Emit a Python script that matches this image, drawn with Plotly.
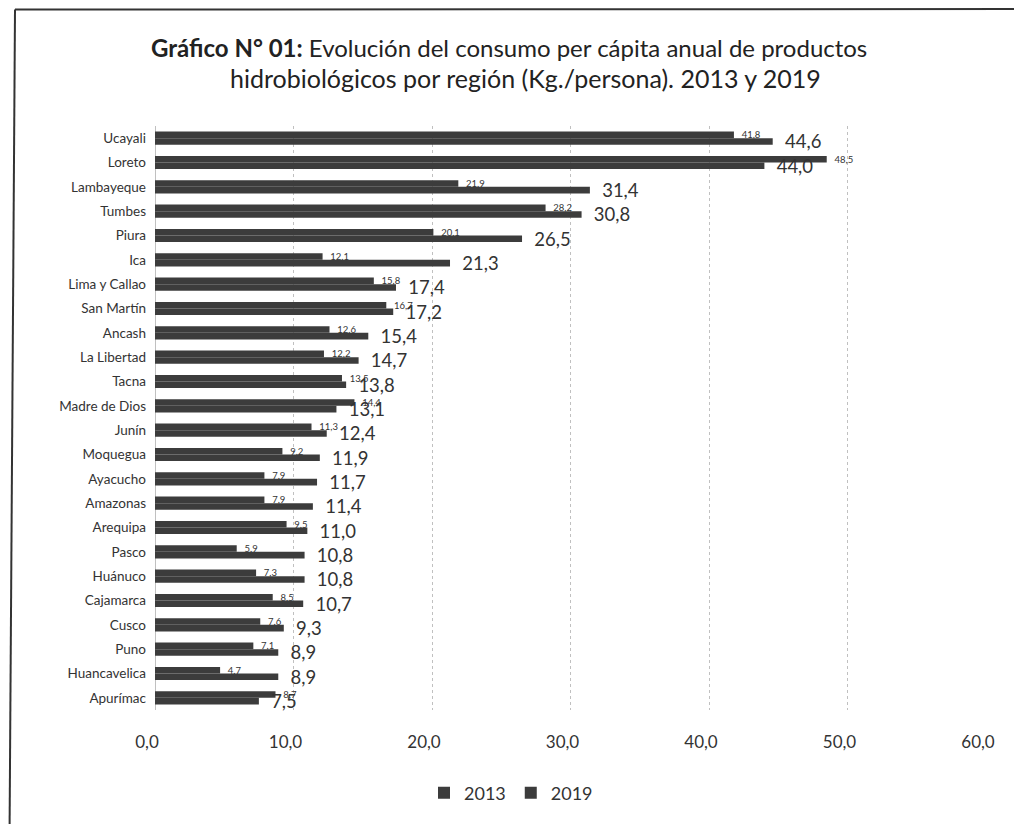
import plotly.graph_objects as go

regions = ["Ucayali", "Loreto", "Lambayeque", "Tumbes", "Piura", "Ica", "Lima y Callao",
           "San Martín", "Ancash", "La Libertad", "Tacna", "Madre de Dios", "Junín",
           "Moquegua", "Ayacucho", "Amazonas", "Arequipa", "Pasco", "Huánuco",
           "Cajamarca", "Cusco", "Puno", "Huancavelica", "Apurímac"]
v2013 = [41.8, 48.5, 21.9, 28.2, 20.1, 12.1, 15.8, 16.7, 12.6, 12.2, 13.5, 14.4, 11.3,
         9.2, 7.9, 7.9, 9.5, 5.9, 7.3, 8.5, 7.6, 7.1, 4.7, 8.7]
v2019 = [44.6, 44.0, 31.4, 30.8, 26.5, 21.3, 17.4, 17.2, 15.4, 14.7, 13.8, 13.1, 12.4,
         11.9, 11.7, 11.4, 11.0, 10.8, 10.8, 10.7, 9.3, 8.9, 8.9, 7.5]
tick_vals = [0, 10, 20, 30, 40, 50, 60]
tick_text = ["0,0", "10,0", "20,0", "30,0", "40,0", "50,0", "60,0"]
title_line1 = "<b>Gráfico N° 01:</b> Evolución del consumo per cápita anual de productos"
title_line2 = "hidrobiológicos por región (Kg./persona). 2013 y 2019"

def fmt(v):
    return "\u2002" + f"{v:.1f}".replace(".", ",")

FONT = "Lato"
BAR = "#3c3c3c"

fig = go.Figure()
fig.add_trace(go.Bar(
    name="2013", y=regions, x=v2013, orientation="h",
    marker=dict(color=BAR, line=dict(width=0)),
    text=[fmt(v) for v in v2013], textposition="outside",
    textfont=dict(size=9.5, color="#333333", family=FONT),
    constraintext="none", cliponaxis=False,
))
fig.add_trace(go.Bar(
    name="2019", y=regions, x=v2019, orientation="h",
    marker=dict(color=BAR, line=dict(width=0)),
    text=[fmt(v) for v in v2019], textposition="outside",
    textfont=dict(size=18.5, color="#333333", family=FONT),
    constraintext="none", cliponaxis=False,
))

OFF = 8  # page body margin
W, H = 1022, 824
L, T = 155 - OFF, 126 - OFF
R = W - (986 - OFF)
B = H - (710 - OFF)
pw, ph = W - L - R, H - T - B

def px(x):
    return (x - OFF - L) / pw

def py(y):
    return (H - B - (y - OFF)) / ph

fig.update_layout(
    width=W, height=H,
    margin=dict(l=L, r=R, t=T, b=B),
    paper_bgcolor="white", plot_bgcolor="white",
    barmode="group", bargap=0.46, bargroupgap=0,
    font=dict(family=FONT, color="#333333"),
    xaxis=dict(
        range=[0, 60], tickvals=tick_vals, ticktext=tick_text,
        tickfont=dict(size=17, color="#333333"),
        showgrid=True, gridcolor="#c0c0c0", griddash="dot", gridwidth=1,
        zeroline=True, zerolinecolor="#c0c0c0", zerolinewidth=1,
        showline=False, ticks="", ticklabelstandoff=20, ticklabelshift=-8,
    ),
    yaxis=dict(
        autorange="reversed", tickfont=dict(size=13.5, color="#333333"),
        showgrid=False, ticks="", ticklabelstandoff=8, showline=False,
    ),
    legend=dict(
        orientation="h", x=px(511), xanchor="center", y=py(793), yanchor="middle",
        font=dict(size=18, color="#333333"), itemwidth=30, traceorder="normal",
    ),
    annotations=[
        dict(text=title_line1, xref="paper", yref="paper", x=px(509), y=py(47),
             xanchor="center", yanchor="middle", showarrow=False,
             font=dict(size=24, color="#222222", family=FONT)),
        dict(text=title_line2, xref="paper", yref="paper", x=px(525), y=py(78),
             xanchor="center", yanchor="middle", showarrow=False,
             font=dict(size=25, color="#222222", family=FONT)),
    ],
    shapes=[
        dict(type="line", xref="paper", yref="paper", x0=px(15), y0=py(9.5), x1=px(1030), y1=py(9),
             line=dict(color="#333333", width=2)),
        dict(type="line", xref="paper", yref="paper", x0=px(15), y0=py(9.5), x1=px(9.5), y1=py(840),
             line=dict(color="#333333", width=2)),
    ],
)

fig.write_html("out.html")
